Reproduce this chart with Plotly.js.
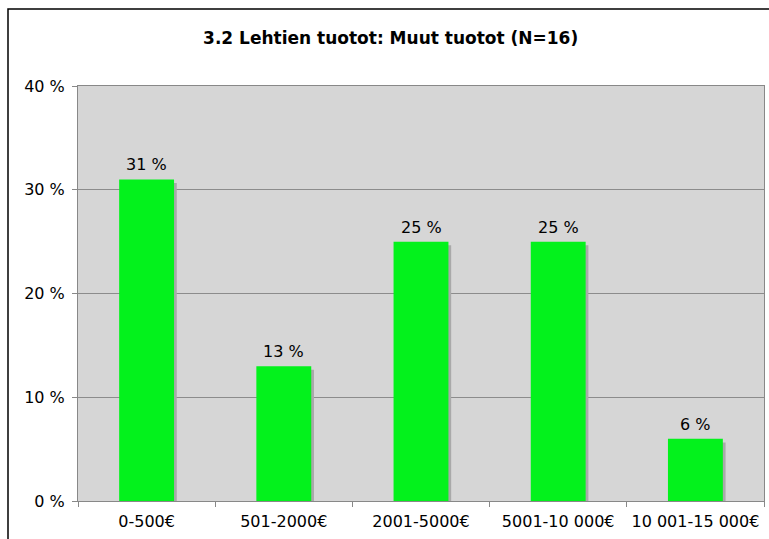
<!DOCTYPE html>
<html>
<head>
<meta charset="utf-8">
<script src="https://cdn.plot.ly/plotly-3.0.1.min.js"></script>
<style>html,body{margin:0;padding:0;background:#fff;}#chart{width:769px;height:539px;}</style>
</head>
<body>
<div id="chart"></div>
<script>
const categories = ["0-500€", "501-2000€", "2001-5000€", "5001-10 000€", "10 001-15 000€"];
const values = [31, 13, 25, 25, 6];
const labels = ["31 %", "13 %", "25 %", "25 %", "6 %"];
const yTicks = [0, 10, 20, 30, 40];
const yTickLabels = ["0 %", "10 %", "20 %", "30 %", "40 %"];

const font = "DejaVu Sans, Verdana, sans-serif";

const shadow = {
  type: "bar", x: categories, y: values, base: -0.35,
  width: 0.4, offset: -0.18,
  marker: {color: "#a9a9a9", line: {width: 0}},
  hoverinfo: "skip", showlegend: false
};
const bars = {
  type: "bar", x: categories, y: values,
  width: 0.4, offset: -0.2,
  marker: {color: "#03f21c", line: {width: 0}},
  showlegend: false
};

const annotations = categories.map((c, i) => ({
  x: c, y: values[i], xref: "x", yref: "y", text: labels[i],
  showarrow: false, yanchor: "bottom", yshift: 3,
  font: {family: font, size: 16, color: "#000"}
}));

const layout = {
  width: 769, height: 539,
  margin: {l: 78, r: 5, t: 86, b: 38},
  paper_bgcolor: "#fff",
  plot_bgcolor: "#d6d6d6",
  barmode: "overlay",
  title: {text: "<b>3.2 Lehtien tuotot: Muut tuotot (N=16)</b>", x: 0.508, xanchor: "center", y: 0.93, yanchor: "middle",
          font: {family: font, size: 17, color: "#000"}},
  xaxis: {
    type: "category", tickson: "boundaries", ticks: "outside", ticklen: 5, tickcolor: "#888",
    showline: true, linecolor: "#888", linewidth: 1, mirror: true, ticklabelstandoff: 6,
    tickfont: {family: font, size: 16, color: "#000"}, showgrid: false, fixedrange: true
  },
  yaxis: {
    range: [0, 40], tickvals: yTicks, ticktext: yTickLabels,
    ticks: "outside", ticklen: 5, tickcolor: "#888", ticklabelstandoff: 4,
    showline: true, linecolor: "#888", linewidth: 1, mirror: true,
    showgrid: true, gridcolor: "#8c8c8c", gridwidth: 1, zeroline: false,
    tickfont: {family: font, size: 16, color: "#000"}, fixedrange: true
  },
  annotations: annotations,
  shapes: [{
    type: "rect", xref: "paper", yref: "paper",
    x0: (8 - 78) / 686, x1: 1.2, y0: -0.3, y1: (501 - 9) / 415,
    line: {color: "#000", width: 1.5}, fillcolor: "rgba(0,0,0,0)", layer: "below"
  }]
};

Plotly.newPlot("chart", [shadow, bars], layout, {displayModeBar: false, staticPlot: true});
</script>
</body>
</html>
